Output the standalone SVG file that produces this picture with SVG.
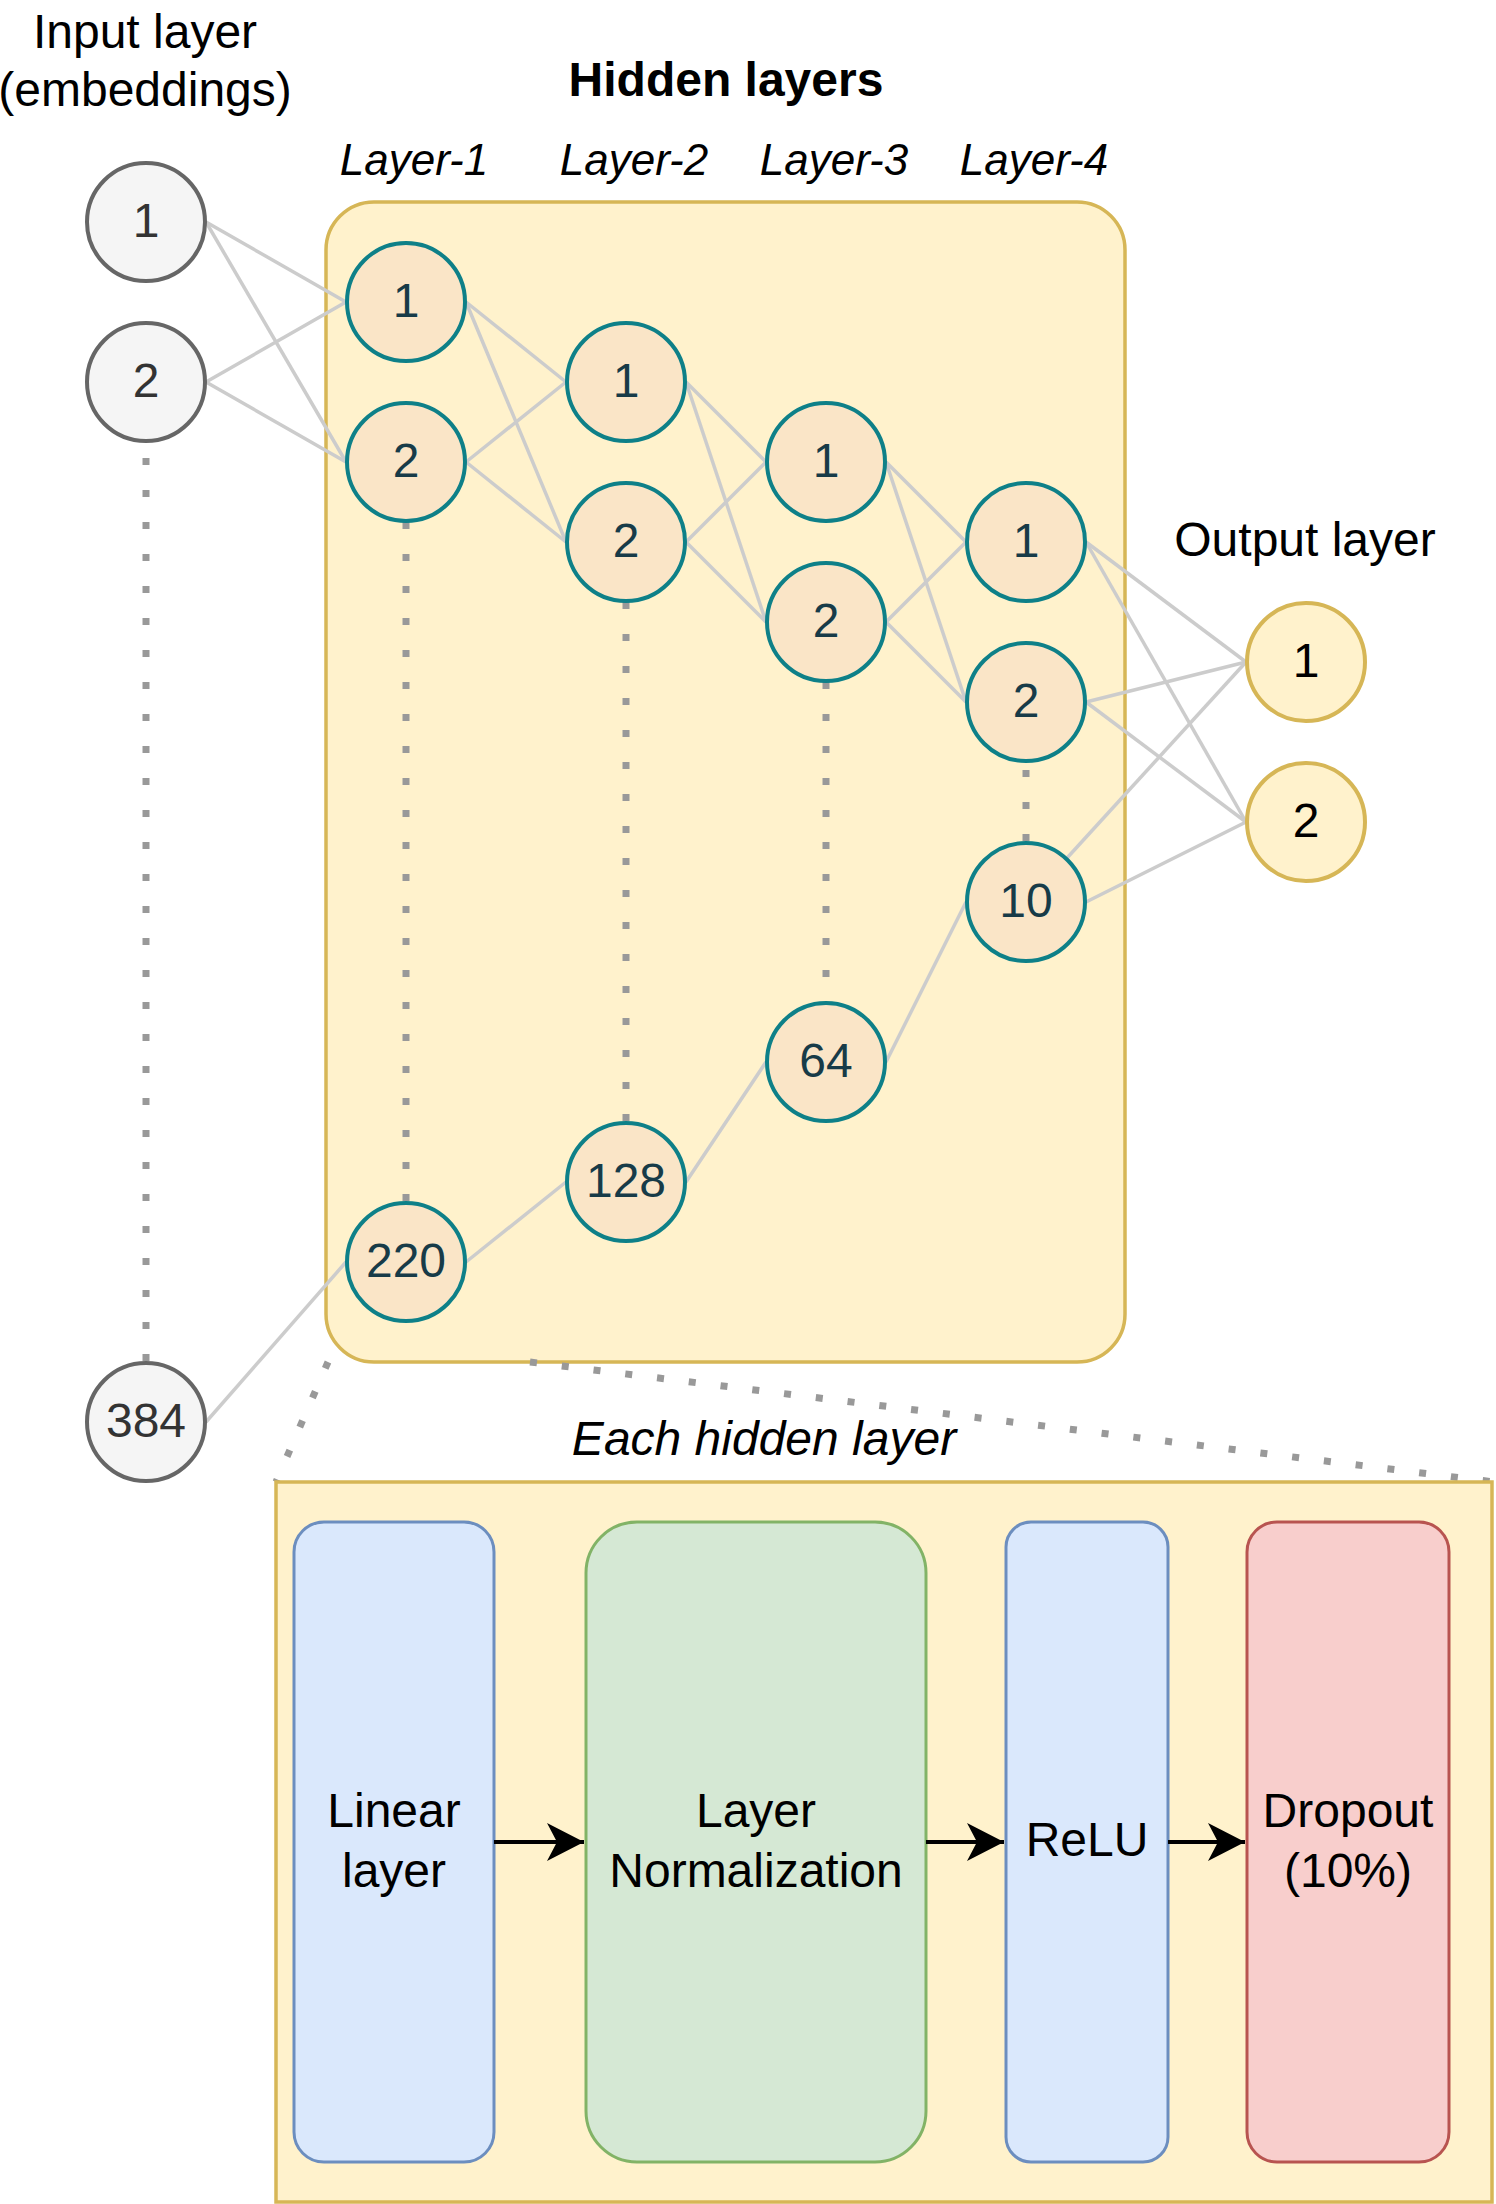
<svg xmlns="http://www.w3.org/2000/svg" width="1496" height="2204" viewBox="0 0 1496 2204">
<style>
text{font-family:"Liberation Sans",Arial,sans-serif;text-anchor:middle}
.lbl{font-size:48px;fill:#000}
.lay{font-size:44px;font-style:italic;fill:#000}
.num{font-size:48px}
.in circle{fill:#f5f5f5;stroke:#666666;stroke-width:4}
.in text{fill:#333333}
.hid circle{fill:#fae5c7;stroke:#0e8088;stroke-width:4}
.hid text{fill:#173b48}
.out circle{fill:#fff2cc;stroke:#d6b656;stroke-width:4}
.out text{fill:#000}
.edge line{stroke:#cccccc;stroke-width:3.5}
.dot{stroke:#999999;stroke-width:7;stroke-dasharray:7 25;fill:none}
.arr{stroke:#000;stroke-width:4;fill:none}
</style>
<defs>
<marker id="ah" markerUnits="userSpaceOnUse" markerWidth="38" markerHeight="38" refX="37" refY="19" orient="auto" viewBox="0 0 38 38">
<path d="M0,0 L37,19 L0,38 L10,19 Z" fill="#000"/>
</marker>
</defs>
<rect width="1496" height="2204" fill="#ffffff"/>

<g id="title-input"><text class="lbl" x="145" y="48">Input layer</text><text class="lbl" x="145" y="106">(embeddings)</text></g>
<g id="title-hidden"><text class="lbl" x="726" y="96" font-weight="bold">Hidden layers</text></g>
<g id="title-layers">
<text class="lay" x="414" y="175">Layer-1</text>
<text class="lay" x="634" y="175">Layer-2</text>
<text class="lay" x="834" y="175">Layer-3</text>
<text class="lay" x="1034" y="175">Layer-4</text>
</g>
<g id="title-output"><text class="lbl" x="1305" y="556">Output layer</text></g>

<g id="hidden-box"><rect x="326" y="202" width="799" height="1160" rx="48" ry="48" fill="#fff2cc" stroke="#d6b656" stroke-width="3.5"/></g>

<g id="dotted">
<line class="dot" x1="146" y1="458" x2="146" y2="1362"/>
<line class="dot" x1="406" y1="522" x2="406" y2="1202"/>
<line class="dot" x1="626" y1="602" x2="626" y2="1122"/>
<line class="dot" x1="826" y1="682" x2="826" y2="1002"/>
<line class="dot" x1="1026" y1="770" x2="1026" y2="842"/>
<line class="dot" x1="328" y1="1362" x2="276" y2="1482"/>
<line class="dot" x1="530" y1="1362" x2="1494" y2="1482"/>
</g>

<g id="connectors" class="edge">
<line x1="206" y1="222" x2="346" y2="302"/>
<line x1="206" y1="222" x2="346" y2="462"/>
<line x1="206" y1="382" x2="346" y2="302"/>
<line x1="206" y1="382" x2="346" y2="462"/>
<line x1="206" y1="1422" x2="346" y2="1262"/>
<line x1="466" y1="302" x2="566" y2="382"/>
<line x1="466" y1="302" x2="566" y2="542"/>
<line x1="466" y1="462" x2="566" y2="382"/>
<line x1="466" y1="462" x2="566" y2="542"/>
<line x1="466" y1="1262" x2="566" y2="1182"/>
<line x1="686" y1="382" x2="766" y2="462"/>
<line x1="686" y1="382" x2="766" y2="622"/>
<line x1="686" y1="542" x2="766" y2="462"/>
<line x1="686" y1="542" x2="766" y2="622"/>
<line x1="686" y1="1182" x2="766" y2="1062"/>
<line x1="886" y1="462" x2="966" y2="542"/>
<line x1="886" y1="462" x2="966" y2="702"/>
<line x1="886" y1="622" x2="966" y2="542"/>
<line x1="886" y1="622" x2="966" y2="702"/>
<line x1="886" y1="1062" x2="966" y2="902"/>
<line x1="1086" y1="542" x2="1246" y2="662"/>
<line x1="1086" y1="542" x2="1246" y2="822"/>
<line x1="1086" y1="702" x2="1246" y2="662"/>
<line x1="1086" y1="702" x2="1246" y2="822"/>
<line x1="1067" y1="858" x2="1246" y2="662"/>
<line x1="1086" y1="902" x2="1246" y2="822"/>
</g>

<g id="in-1" class="in"><circle cx="146" cy="222" r="59"/><text class="num" x="146" y="237">1</text></g>
<g id="in-2" class="in"><circle cx="146" cy="382" r="59"/><text class="num" x="146" y="397">2</text></g>
<g id="in-384" class="in"><circle cx="146" cy="1422" r="59"/><text class="num" x="146" y="1437">384</text></g>

<g id="l1-1" class="hid"><circle cx="406" cy="302" r="59"/><text class="num" x="406" y="317">1</text></g>
<g id="l1-2" class="hid"><circle cx="406" cy="462" r="59"/><text class="num" x="406" y="477">2</text></g>
<g id="l1-220" class="hid"><circle cx="406" cy="1262" r="59"/><text class="num" x="406" y="1277">220</text></g>
<g id="l2-1" class="hid"><circle cx="626" cy="382" r="59"/><text class="num" x="626" y="397">1</text></g>
<g id="l2-2" class="hid"><circle cx="626" cy="542" r="59"/><text class="num" x="626" y="557">2</text></g>
<g id="l2-128" class="hid"><circle cx="626" cy="1182" r="59"/><text class="num" x="626" y="1197">128</text></g>
<g id="l3-1" class="hid"><circle cx="826" cy="462" r="59"/><text class="num" x="826" y="477">1</text></g>
<g id="l3-2" class="hid"><circle cx="826" cy="622" r="59"/><text class="num" x="826" y="637">2</text></g>
<g id="l3-64" class="hid"><circle cx="826" cy="1062" r="59"/><text class="num" x="826" y="1077">64</text></g>
<g id="l4-1" class="hid"><circle cx="1026" cy="542" r="59"/><text class="num" x="1026" y="557">1</text></g>
<g id="l4-2" class="hid"><circle cx="1026" cy="702" r="59"/><text class="num" x="1026" y="717">2</text></g>
<g id="l4-10" class="hid"><circle cx="1026" cy="902" r="59"/><text class="num" x="1026" y="917">10</text></g>

<g id="out-1" class="out"><circle cx="1306" cy="662" r="59"/><text class="num" x="1306" y="677">1</text></g>
<g id="out-2" class="out"><circle cx="1306" cy="822" r="59"/><text class="num" x="1306" y="837">2</text></g>

<g id="each-label"><text class="lbl" x="764" y="1455" font-style="italic">Each hidden layer</text></g>

<g id="each-box"><rect x="276" y="1482" width="1216" height="720" fill="#fff2cc" stroke="#d6b656" stroke-width="3.5"/></g>

<g id="linear"><rect x="294" y="1522" width="200" height="640" rx="30" ry="30" fill="#dae8fc" stroke="#6c8ebf" stroke-width="3"/><text class="lbl" x="394" y="1827">Linear</text><text class="lbl" x="394" y="1887">layer</text></g>
<g id="layernorm"><rect x="586" y="1522" width="340" height="640" rx="51" ry="51" fill="#d5e8d4" stroke="#82b366" stroke-width="3"/><text class="lbl" x="756" y="1827">Layer</text><text class="lbl" x="756" y="1887">Normalization</text></g>
<g id="relu"><rect x="1006" y="1522" width="162" height="640" rx="25" ry="25" fill="#dae8fc" stroke="#6c8ebf" stroke-width="3"/><text class="lbl" x="1087" y="1856">ReLU</text></g>
<g id="dropout"><rect x="1247" y="1522" width="202" height="640" rx="30" ry="30" fill="#f8cecc" stroke="#b85450" stroke-width="3"/><text class="lbl" x="1348" y="1827">Dropout</text><text class="lbl" x="1348" y="1887">(10%)</text></g>

<g id="arrows">
<line class="arr" x1="494" y1="1842" x2="584" y2="1842" marker-end="url(#ah)"/>
<line class="arr" x1="926" y1="1842" x2="1004" y2="1842" marker-end="url(#ah)"/>
<line class="arr" x1="1168" y1="1842" x2="1245" y2="1842" marker-end="url(#ah)"/>
</g>
</svg>
